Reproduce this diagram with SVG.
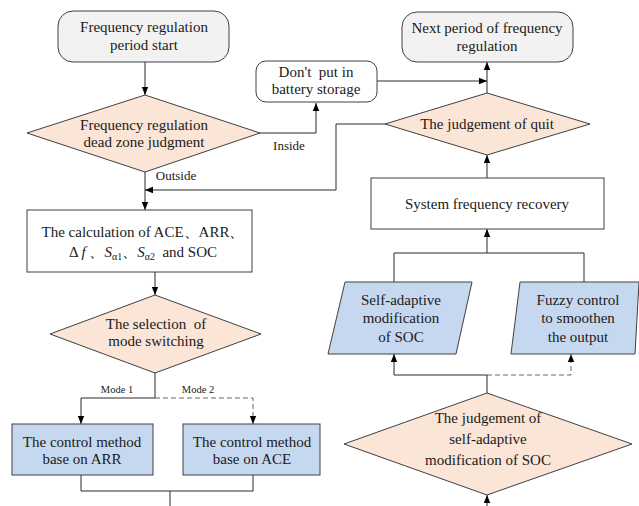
<svg xmlns="http://www.w3.org/2000/svg" width="639" height="506" viewBox="0 0 639 506" font-family="'Liberation Serif', 'Times New Roman', Times, serif">
<defs>
<marker id="ah" viewBox="0 0 8 8" refX="8" refY="4" markerWidth="8" markerHeight="8" markerUnits="userSpaceOnUse" orient="auto">
<path d="M0,0.8 L8,4 L0,7.2 Z" fill="#000"/>
</marker>
<style>
text{font-family:'Liberation Serif','Times New Roman',Times,serif;font-size:15px;fill:#1a1a1a;text-anchor:middle}
.sm{font-size:13px}
.xs{font-size:10.5px}
.term{fill:#f2f2f2;stroke:#404040;stroke-width:1}
.rnd{fill:#fff;stroke:#404040;stroke-width:1}
.box{fill:#fff;stroke:#404040;stroke-width:1}
.dia{fill:#fbe5d6;stroke:#404040;stroke-width:1}
.blu{fill:#c6d8ef;stroke:#404040;stroke-width:1}
.ln{fill:none;stroke:#2a2a2a;stroke-width:1}
.ar{fill:none;stroke:#2a2a2a;stroke-width:1;marker-end:url(#ah)}
.da{stroke-dasharray:5,3;stroke:#666}
</style>
</defs>
<rect width="639" height="506" fill="#fff"/>
<g id="connectors">
<path class="ar" d="M145,62 V95"/>
<path class="ar" d="M260,133 H316 V103"/>
<path class="ar" d="M377,81 H487"/>
<path class="ar" d="M487,93 V62"/>
<path class="ar" d="M385,124 H336 V190 H145"/>
<path class="ar" d="M145,172 V210"/>
<path class="ar" d="M155,272 V295"/>
<path class="ln" d="M155,373 V398 H81"/>
<path class="ar" d="M81,398 V424"/>
<path class="ar da" d="M155,398 H253 V424"/>
<path class="ln" d="M81,475 V491 H253 V475"/>
<path class="ln" d="M170,491 V506"/>
<path class="ar" d="M487,178 V155"/>
<path class="ar" d="M487,253 V229"/>
<path class="ln" d="M394,282 V253 H584 V282"/>
<path class="ar" d="M394,375 V354"/>
<path class="ln" d="M394,375 H487"/>
<path class="ar da" d="M487,375 H571 V354"/>
<path class="ln" d="M487,375 V393"/>
<path class="ar" d="M487,506 V495"/>
<text class="sm" x="289" y="150">Inside</text>
<text class="sm" x="176" y="180">Outside</text>
<text class="xs" x="117" y="393">Mode 1</text>
<text class="xs" x="198" y="393">Mode 2</text>
</g>
<g id="start">
<rect class="term" x="58" y="11" width="171" height="51" rx="15"/>
<text x="144" y="32">Frequency regulation</text>
<text x="144" y="50">period start</text>
</g>
<g id="deadzone">
<polygon class="dia" points="27,133 145,95 260,133 145,172"/>
<text x="144" y="130">Frequency regulation</text>
<text x="144" y="147">dead zone judgment</text>
</g>
<g id="dontput">
<rect class="rnd" x="256" y="61" width="121" height="41" rx="10"/>
<text x="316" y="77">Don't&#160; put in</text>
<text x="316" y="94">battery storage</text>
</g>
<g id="next">
<rect class="term" x="402" y="12" width="171" height="50" rx="15"/>
<text x="487" y="33">Next period of frequency</text>
<text x="487" y="51">regulation</text>
</g>
<g id="quit">
<polygon class="dia" points="385,124 487,93 590,124 487,155"/>
<text x="487" y="129">The judgement of quit</text>
</g>
<g id="calc">
<rect class="box" x="27" y="210" width="225" height="62"/>
<text x="143" y="237">The calculation of ACE、ARR、</text>
<text x="143" y="257">Δ <tspan font-style="italic">f</tspan> 、<tspan font-style="italic">S</tspan><tspan font-size="10" dy="3">α1</tspan><tspan dy="-3">、</tspan><tspan font-style="italic">S</tspan><tspan font-size="10" dy="3">α2</tspan><tspan dy="-3">&#160; and SOC</tspan></text>
</g>
<g id="selection">
<polygon class="dia" points="50,334 155,295 261,334 155,373"/>
<text x="156" y="329">The selection&#160; of</text>
<text x="156" y="346">mode switching</text>
</g>
<g id="arr">
<rect class="blu" x="12" y="424" width="141" height="51"/>
<text x="82" y="447">The control method</text>
<text x="82" y="464">base on ARR</text>
</g>
<g id="ace">
<rect class="blu" x="183" y="424" width="137" height="51"/>
<text x="252" y="447">The control method</text>
<text x="252" y="464">base on ACE</text>
</g>
<g id="recovery">
<rect class="box" x="371" y="178" width="233" height="51"/>
<text x="487" y="209">System frequency recovery</text>
</g>
<g id="selfadapt">
<polygon class="blu" points="345,282 472,282 456,354 328,354"/>
<text x="401" y="305">Self-adaptive</text>
<text x="401" y="323">modification</text>
<text x="401" y="342">of SOC</text>
</g>
<g id="fuzzy">
<polygon class="blu" points="520,282 639,282 635,354 511,354"/>
<text x="578" y="305">Fuzzy control</text>
<text x="578" y="323">to smoothen</text>
<text x="578" y="342">the output</text>
</g>
<g id="judgesoc">
<polygon class="dia" points="344,444 487,393 632,444 487,495"/>
<text x="488" y="423">The judgement of</text>
<text x="488" y="444">self-adaptive</text>
<text x="488" y="465">modification of SOC</text>
</g>
</svg>
